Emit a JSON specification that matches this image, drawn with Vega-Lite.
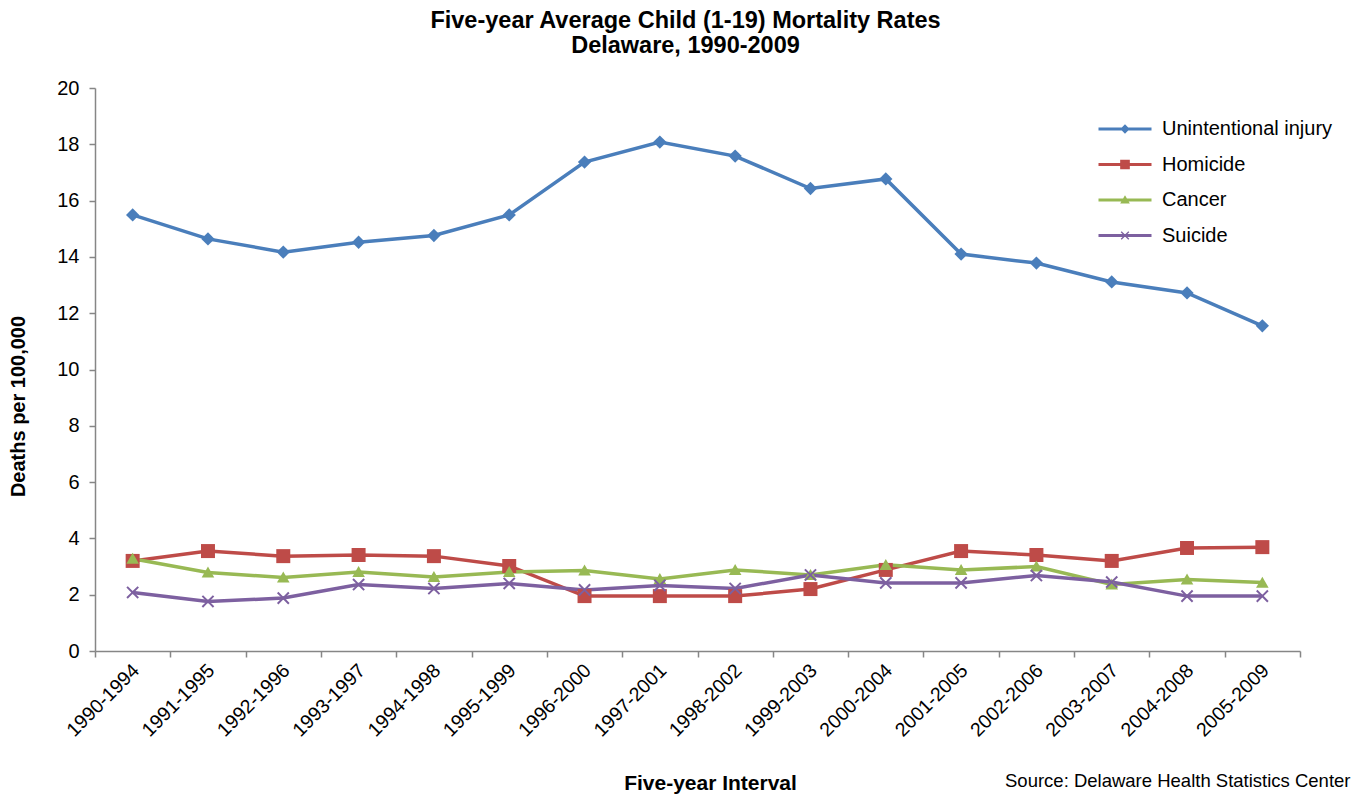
{
  "$schema": "https://vega.github.io/schema/vega-lite/v6.json",
  "width": 1205,
  "height": 563,
  "autosize": {"type": "none"},
  "padding": {"left": 95, "top": 88, "right": 64, "bottom": 143},
  "background": "white",
  "config": {
    "font": "Liberation Sans",
    "view": {"stroke": null},
    "axis": {"grid": false, "domainColor": "#868686", "tickColor": "#868686", "domainWidth": 1.5, "tickWidth": 1.5, "labelColor": "black", "titleColor": "black", "tickSize": 6}
  },
  "title": {
    "text": ["Five-year Average Child (1-19) Mortality Rates", "Delaware, 1990-2009"],
    "fontSize": 23.5,
    "fontWeight": "bold",
    "lineHeight": 25,
    "dx": -12,
    "offset": 21,
    "color": "black"
  },
  "datasets": {
    "rates": [
      {"interval": "1990-1994", "series": "Unintentional injury", "rate": 15.49},
      {"interval": "1991-1995", "series": "Unintentional injury", "rate": 14.64},
      {"interval": "1992-1996", "series": "Unintentional injury", "rate": 14.17},
      {"interval": "1993-1997", "series": "Unintentional injury", "rate": 14.52},
      {"interval": "1994-1998", "series": "Unintentional injury", "rate": 14.76},
      {"interval": "1995-1999", "series": "Unintentional injury", "rate": 15.49},
      {"interval": "1996-2000", "series": "Unintentional injury", "rate": 17.37},
      {"interval": "1997-2001", "series": "Unintentional injury", "rate": 18.08},
      {"interval": "1998-2002", "series": "Unintentional injury", "rate": 17.58},
      {"interval": "1999-2003", "series": "Unintentional injury", "rate": 16.43},
      {"interval": "2000-2004", "series": "Unintentional injury", "rate": 16.77},
      {"interval": "2001-2005", "series": "Unintentional injury", "rate": 14.10},
      {"interval": "2002-2006", "series": "Unintentional injury", "rate": 13.78},
      {"interval": "2003-2007", "series": "Unintentional injury", "rate": 13.11},
      {"interval": "2004-2008", "series": "Unintentional injury", "rate": 12.72},
      {"interval": "2005-2009", "series": "Unintentional injury", "rate": 11.55},
      {"interval": "1990-1994", "series": "Homicide", "rate": 3.20},
      {"interval": "1991-1995", "series": "Homicide", "rate": 3.55},
      {"interval": "1992-1996", "series": "Homicide", "rate": 3.37},
      {"interval": "1993-1997", "series": "Homicide", "rate": 3.41},
      {"interval": "1994-1998", "series": "Homicide", "rate": 3.37},
      {"interval": "1995-1999", "series": "Homicide", "rate": 3.02},
      {"interval": "1996-2000", "series": "Homicide", "rate": 1.95},
      {"interval": "1997-2001", "series": "Homicide", "rate": 1.95},
      {"interval": "1998-2002", "series": "Homicide", "rate": 1.95},
      {"interval": "1999-2003", "series": "Homicide", "rate": 2.20},
      {"interval": "2000-2004", "series": "Homicide", "rate": 2.88},
      {"interval": "2001-2005", "series": "Homicide", "rate": 3.55},
      {"interval": "2002-2006", "series": "Homicide", "rate": 3.41},
      {"interval": "2003-2007", "series": "Homicide", "rate": 3.20},
      {"interval": "2004-2008", "series": "Homicide", "rate": 3.66},
      {"interval": "2005-2009", "series": "Homicide", "rate": 3.69},
      {"interval": "1990-1994", "series": "Cancer", "rate": 3.28},
      {"interval": "1991-1995", "series": "Cancer", "rate": 2.79},
      {"interval": "1992-1996", "series": "Cancer", "rate": 2.61},
      {"interval": "1993-1997", "series": "Cancer", "rate": 2.81},
      {"interval": "1994-1998", "series": "Cancer", "rate": 2.63},
      {"interval": "1995-1999", "series": "Cancer", "rate": 2.81},
      {"interval": "1996-2000", "series": "Cancer", "rate": 2.86},
      {"interval": "1997-2001", "series": "Cancer", "rate": 2.56},
      {"interval": "1998-2002", "series": "Cancer", "rate": 2.88},
      {"interval": "1999-2003", "series": "Cancer", "rate": 2.70},
      {"interval": "2000-2004", "series": "Cancer", "rate": 3.06},
      {"interval": "2001-2005", "series": "Cancer", "rate": 2.88},
      {"interval": "2002-2006", "series": "Cancer", "rate": 3.00},
      {"interval": "2003-2007", "series": "Cancer", "rate": 2.36},
      {"interval": "2004-2008", "series": "Cancer", "rate": 2.54},
      {"interval": "2005-2009", "series": "Cancer", "rate": 2.43},
      {"interval": "1990-1994", "series": "Suicide", "rate": 2.08},
      {"interval": "1991-1995", "series": "Suicide", "rate": 1.76},
      {"interval": "1992-1996", "series": "Suicide", "rate": 1.88},
      {"interval": "1993-1997", "series": "Suicide", "rate": 2.36},
      {"interval": "1994-1998", "series": "Suicide", "rate": 2.22},
      {"interval": "1995-1999", "series": "Suicide", "rate": 2.40},
      {"interval": "1996-2000", "series": "Suicide", "rate": 2.17},
      {"interval": "1997-2001", "series": "Suicide", "rate": 2.33},
      {"interval": "1998-2002", "series": "Suicide", "rate": 2.22},
      {"interval": "1999-2003", "series": "Suicide", "rate": 2.70},
      {"interval": "2000-2004", "series": "Suicide", "rate": 2.42},
      {"interval": "2001-2005", "series": "Suicide", "rate": 2.42},
      {"interval": "2002-2006", "series": "Suicide", "rate": 2.68},
      {"interval": "2003-2007", "series": "Suicide", "rate": 2.45},
      {"interval": "2004-2008", "series": "Suicide", "rate": 1.95},
      {"interval": "2005-2009", "series": "Suicide", "rate": 1.95}
    ]
  },
  "data": {"name": "rates"},
  "encoding": {
    "x": {
      "field": "interval",
      "type": "nominal",
      "sort": null,
      "scale": {"type": "band", "paddingInner": 0, "paddingOuter": 0},
      "axis": {
        "title": "Five-year Interval",
        "titleFontSize": 21,
        "titleFontWeight": "bold",
        "titlePadding": 33,
        "titleX": 615,
        "labelAngle": -45,
        "labelAlign": "right",
        "labelBaseline": "middle",
        "labelFontSize": 19.5,
        "labelPadding": 10,
        "labelOffset": 3,
        "tickBand": "extent"
      }
    }
  },
  "resolve": {"scale": {"y": "independent", "shape": "independent", "color": "independent"}, "axis": {"y": "independent"}},
  "layer": [
    {
      "encoding": {
        "y": {
          "field": "rate",
          "type": "quantitative",
          "scale": {"domain": [0, 20], "nice": false, "zero": true},
          "axis": {
            "orient": "left",
            "title": "Deaths per 100,000",
            "titleFontSize": 20,
            "titleFontWeight": "bold",
            "titlePadding": 28,
            "titleY": 318,
            "values": [0, 2, 4, 6, 8, 10, 12, 14, 16, 18, 20],
            "labelFontSize": 20,
            "labelPadding": 10
          }
        },
        "color": {
          "field": "series",
          "type": "nominal",
          "scale": {
            "domain": ["Unintentional injury", "Homicide", "Cancer", "Suicide"],
            "range": ["#4A7EBB", "#BE4B48", "#98B954", "#7D60A0"]
          },
          "legend": null
        }
      },
      "layer": [
        {
          "mark": {"type": "line", "strokeWidth": 3.5},
          "encoding": {}
        },
        {
          "mark": {"type": "point", "filled": true, "opacity": 1, "size": 196},
          "encoding": {
            "shape": {
              "field": "series",
              "type": "nominal",
              "legend": null,
              "scale": {
                "domain": ["Unintentional injury", "Homicide", "Cancer", "Suicide"],
                "range": [
                  "M0,-0.95L0.95,0L0,0.95L-0.95,0Z",
                  "M-1,-1L1,-1L1,1L-1,1Z",
                  "M0,-0.85L0.9,0.72L-0.9,0.72Z",
                  "M-0.9,-0.7L-0.7,-0.9L0,-0.2L0.7,-0.9L0.9,-0.7L0.2,0L0.9,0.7L0.7,0.9L0,0.2L-0.7,0.9L-0.9,0.7L-0.2,0Z"
                ]
              }
            }
          }
        }
      ]
    },
    {
      "mark": {"type": "point", "filled": true, "opacity": 0, "size": 243},
      "encoding": {
        "y": {
          "field": "rate",
          "type": "quantitative",
          "scale": {"domain": [0, 20], "nice": false, "zero": true},
          "axis": {
            "orient": "right",
            "title": "Source:  Delaware Health Statistics Center",
            "labels": false,
            "ticks": false,
            "domain": false,
            "titleAngle": 0,
            "titleX": 50,
            "titleY": 692,
            "titleAlign": "right",
            "titleBaseline": "middle",
            "titleFontWeight": "normal",
            "titleFontSize": 18.5
          }
        },
        "color": {
          "field": "series",
          "type": "nominal",
          "scale": {
            "domain": ["Unintentional injury", "Homicide", "Cancer", "Suicide"],
            "range": ["#4A7EBB", "#BE4B48", "#98B954", "#7D60A0"]
          },
          "legend": {
            "orient": "none",
            "legendX": 1020,
            "legendY": 31,
            "title": null,
            "padding": 0,
            "symbolOpacity": 1,
            "symbolSize": 243,
            "symbolStrokeWidth": 0,
            "labelFontSize": 20,
            "labelColor": "black",
            "labelOffset": 27,
            "labelLimit": 400,
            "rowPadding": 15.5
          }
        },
        "shape": {
          "field": "series",
          "type": "nominal",
          "scale": {
            "domain": ["Unintentional injury", "Homicide", "Cancer", "Suicide"],
            "range": [
              "M-3.4,-0.19L3.4,-0.19L3.4,0.19L-3.4,0.19ZM0,-0.6L0.6,0L0,0.6L-0.6,0Z",
              "M-3.4,-0.19L3.4,-0.19L3.4,0.19L-3.4,0.19ZM-0.62,-0.62L0.62,-0.62L0.62,0.62L-0.62,0.62Z",
              "M-3.4,-0.19L3.4,-0.19L3.4,0.19L-3.4,0.19ZM0,-0.6L0.62,0.45L-0.62,0.45Z",
              "M-3.4,-0.19L3.4,-0.19L3.4,0.19L-3.4,0.19ZM-0.55,-0.43L-0.43,-0.55L0,-0.12L0.43,-0.55L0.55,-0.43L0.12,0L0.55,0.43L0.43,0.55L0,0.12L-0.43,0.55L-0.55,0.43L-0.12,0Z"
            ]
          },
          "legend": {
            "orient": "none",
            "legendX": 1020,
            "legendY": 31,
            "title": null,
            "padding": 0,
            "symbolOpacity": 1,
            "symbolSize": 243,
            "symbolStrokeWidth": 0,
            "labelFontSize": 20,
            "labelColor": "black",
            "labelOffset": 27,
            "labelLimit": 400,
            "rowPadding": 15.5
          }
        }
      }
    }
  ]
}
